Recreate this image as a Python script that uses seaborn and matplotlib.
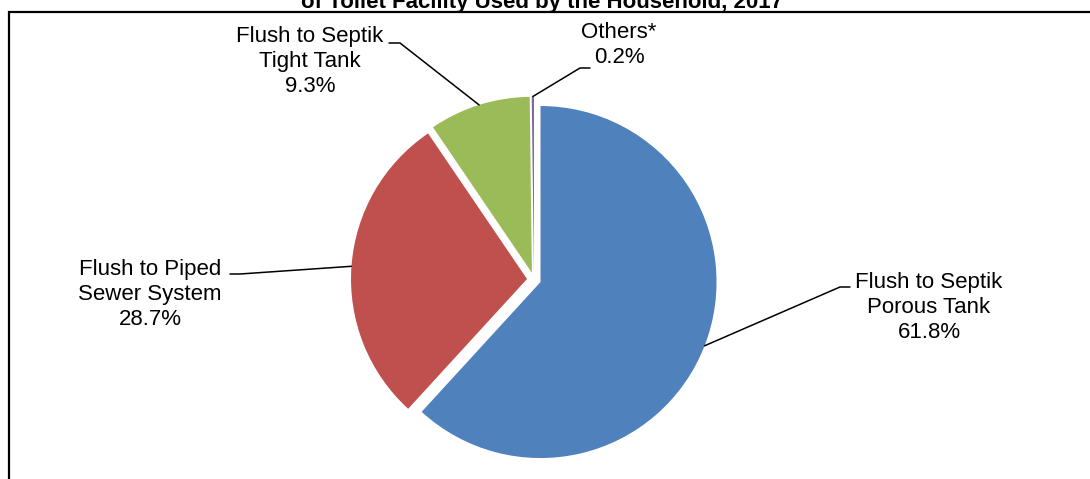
import matplotlib
matplotlib.use('Agg')
import numpy as np
import matplotlib.pyplot as plt
import seaborn as sns

# data
labels = ['Flush to Septik\nPorous Tank', 'Flush to Piped\nSewer System',
          'Flush to Septik\nTight Tank', 'Others*']
shares = [61.8, 28.7, 9.3, 0.2]
colors = ['#4F81BD', '#C0504D', '#9BBB59', '#8064A2']
title = 'of Toilet Facility Used by the Household, 2017'

sns.set_theme(style='white')
plt.rcParams['font.family'] = ['Liberation Sans', 'DejaVu Sans']

W, H = 1090, 479
fig = plt.figure(figsize=(W / 100, H / 100), dpi=100)
ax = fig.add_axes([0, 0, 1, 1])

# pie in pixel-like units (y measured from the bottom); explode is in the same units
wedges, _ = ax.pie(shares, colors=colors, startangle=90, counterclock=False,
                   center=(534, H - 279.5), radius=176,
                   explode=[7] * len(shares),
                   wedgeprops=dict(linewidth=0))
ax.set_xlim(0, W)
ax.set_ylim(0, H)
ax.set_aspect('auto')
ax.axis('off')

# label text position (last-line baseline) and leader-line knee/end, in px from top
label_pos = [(929, 338), (150, 325), (310, 92), (619, 63)]
knees = [((840, 287), (850, 287)), ((240, 274), (230, 274)),
         ((400, 43), (389, 43)), ((580, 68), (590, 68))]

for w, lab, val, (tx, ty), (k1, k2) in zip(wedges, labels, shares, label_pos, knees):
    mid = np.deg2rad((w.theta1 + w.theta2) / 2)
    px = w.center[0] + w.r * np.cos(mid)
    py = w.center[1] + w.r * np.sin(mid)
    ax.plot([px, k1[0], k2[0]], [py, H - k1[1], H - k2[1]], color='black', lw=1.1)
    ax.text(tx, H - ty, f'{lab}\n{val:.1f}%', ha='center', va='baseline',
            fontsize=16, linespacing=1.25, color='black')

# title (only its lower line is visible) and chart frame
ax.text(542, H - 8, title, ha='center', va='baseline', fontsize=16,
        fontweight='bold', color='black')
ax.plot([9, 9, W + 5], [-5, H - 12, H - 12], color='black', lw=1.6,
        clip_on=False, solid_joinstyle='miter')

fig.savefig('out.png', dpi=100)
